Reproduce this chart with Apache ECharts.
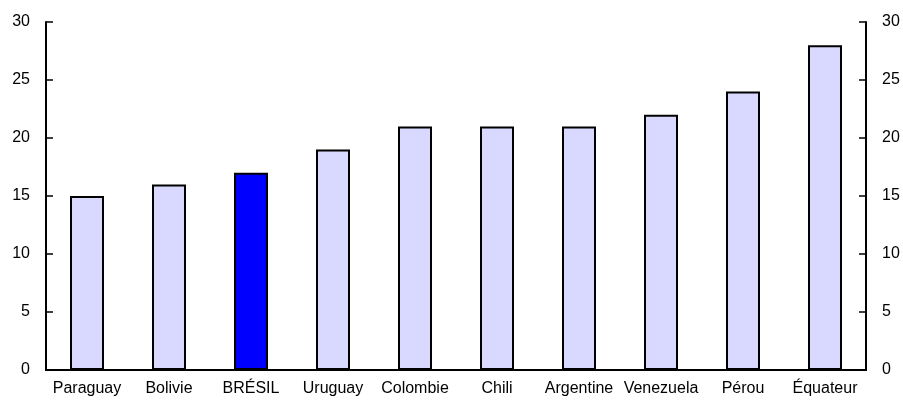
<!DOCTYPE html>
<html><head><meta charset="utf-8">
<script src="https://cdn.jsdelivr.net/npm/echarts@6/dist/echarts.min.js"></script>
<style>html,body{margin:0;padding:0;background:#fff}#c{width:903px;height:403px}</style>
</head><body><div id="c"></div>
<script>
const categories = ['Paraguay','Bolivie','BRÉSIL','Uruguay','Colombie','Chili','Argentine','Venezuela','Pérou','Équateur'];
const values = [15,16,17,19,21,21,21,22,24,28];
const highlight = 'BRÉSIL';
const yTicks = {min:0, max:30, interval:5};

const chart = echarts.init(document.getElementById('c'), null, {renderer:'canvas'});
function font(){ return {fontFamily:'Liberation Sans, Arial, sans-serif', fontSize:16, color:'#000'}; }
function yAxis(pos){
  return {
    type:'value', position:pos, min:yTicks.min, max:yTicks.max, interval:yTicks.interval,
    axisLine:{show:true, onZero:false, lineStyle:{color:'#000', width:2}},
    axisTick:{show:true, inside:true, length:7, lineStyle:{color:'#000', width:1.5}},
    splitLine:{show:false},
    axisLabel:Object.assign({margin:16}, font())
  };
}
chart.setOption({
  animation:false,
  grid:{left:46, right:37, top:22, bottom:33},
  xAxis:[
    {type:'category', data:categories, position:'bottom',
     axisLine:{lineStyle:{color:'#000', width:2}}, axisTick:{show:false},
     axisLabel:Object.assign({margin:11, interval:0}, font())},
    {type:'category', data:categories, position:'top',
     axisLine:{lineStyle:{color:'#000', width:2}}, axisTick:{show:false}, axisLabel:{show:false}}
  ],
  yAxis:[ yAxis('left'), yAxis('right') ],
  series:[{
    type:'bar', barWidth:34,
    data:values.map((v,i)=>({value:v, itemStyle:{color: categories[i]===highlight ? '#0000ff' : '#d9d9ff'}})),
    itemStyle:{borderColor:'#000', borderWidth:2}
  }]
});
</script></body></html>
